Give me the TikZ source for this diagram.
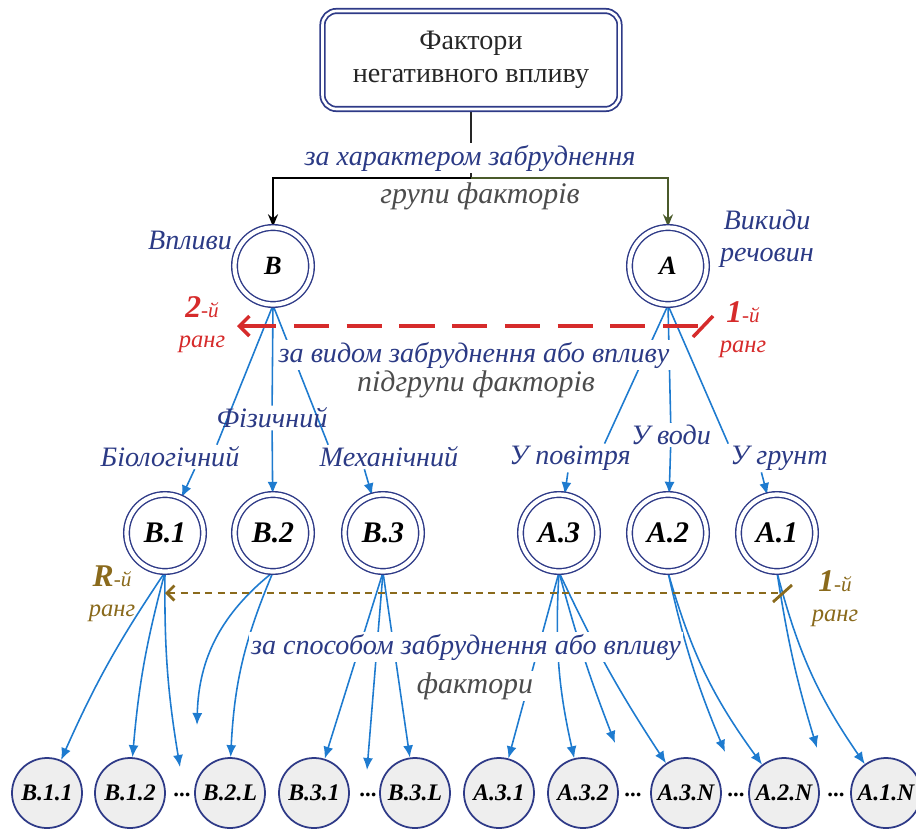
\documentclass[tikz,border=0pt]{standalone}
\usepackage{fontspec}
\setmainfont{Liberation Serif}
\usetikzlibrary{arrows.meta,positioning,calc,backgrounds}

\definecolor{navy}{HTML}{2E3A87}
\definecolor{txtblue}{HTML}{2B3A85}
\definecolor{linkblue}{HTML}{1E7BCF}
\definecolor{rankred}{HTML}{D62B2B}
\definecolor{rankolive}{HTML}{8A6A1C}
\definecolor{darkolive}{HTML}{4A5A2A}
\definecolor{nodegray}{HTML}{EEEEEE}

\begin{document}
\begin{tikzpicture}[
  group/.style={
    circle, draw=navy, double=white, double distance=2.4pt, line width=0.8pt,
    minimum size=1.54cm, inner sep=0pt,
    font=\fontsize{15}{17}\selectfont\bfseries\itshape
  },
  subgroup/.style={
    group, font=\fontsize{17}{19}\selectfont\bfseries\itshape
  },
  factor/.style={
    circle, draw=navy, fill=nodegray, line width=1pt,
    minimum size=1.4cm, inner sep=0pt,
    font=\fontsize{13.5}{15}\selectfont\bfseries\itshape
  },
  crit/.style={font=\fontsize{16}{18}\selectfont\itshape, text=txtblue, fill=white, inner sep=1pt},
  kind/.style={font=\fontsize{16}{18}\selectfont\itshape, text=txtblue, inner sep=1pt, align=center},
  level/.style={font=\fontsize{17}{19}\selectfont\itshape, text=black!70, fill=white, inner sep=1pt},
  rank/.style={font=\fontsize{14}{16}\selectfont\itshape, align=center, inner sep=0pt},
  tie/.style={draw=linkblue, line width=0.9pt},
  feed/.style={tie, -{Latex[length=2.4mm,width=2mm]}},
  dots/.style={font=\fontsize{13}{15}\selectfont\bfseries, inner sep=0pt}
]
\useasboundingbox (0,0) rectangle (18.32,-16.56);

% Root box
\node[draw=navy, double=white, double distance=1.5pt, line width=1pt, rounded corners=8pt,
  minimum width=5.94cm, minimum height=1.96cm, align=center, text=black!85,
  font=\fontsize{16}{19}\selectfont] (root) at (9.42,-1.2) {Фактори\\негативного впливу};
\coordinate (br) at (9.42,-3.56);

% Groups
\node[group] (B) at (5.46,-5.32) {B};
\node[group] (A) at (13.36,-5.32) {A};
\node[kind] (lB) at (3.8,-4.8) {Впливи};
\node[kind] (lA) at (15.34,-4.78) {Викиди\\речовин};

% Criteria and levels
\node[crit] (c1) at (9.4,-3.16) {за характером забруднення};
\node[level] (g1) at (9.6,-3.92) {групи факторів};
\node[crit] (c2) at (9.48,-7.1) {за видом забруднення або впливу};
\node[level] (g2) at (9.52,-7.68) {підгрупи факторів};
\node[crit] (c3) at (9.32,-12.94) {за способом забруднення або впливу};
\node[level] (g3) at (9.5,-13.72) {фактори};

% Kinds
\node[kind] (lPhys) at (5.44,-8.36) {Фізичний};
\node[kind] (lBio) at (3.4,-9.14) {Біологічний};
\node[kind] (lMech) at (7.78,-9.14) {Механічний};
\node[kind] (lAir) at (11.4,-9.16) {У повітря};
\node[kind] (lWater) at (13.42,-8.7) {У води};
\node[kind] (lSoil) at (15.58,-9.16) {У грунт};

% Subgroups
\node[subgroup] (B1) at (3.3,-10.66) {B.1};
\node[subgroup] (B2) at (5.46,-10.66) {B.2};
\node[subgroup] (B3) at (7.66,-10.66) {B.3};
\node[subgroup] (A3) at (11.18,-10.66) {A.3};
\node[subgroup] (A2) at (13.36,-10.66) {A.2};
\node[subgroup] (A1) at (15.54,-10.66) {A.1};

% Factors
\node[factor] (B11) at (0.94,-15.86) {B.1.1};
\node[factor] (B12) at (2.6,-15.86) {B.1.2};
\node[dots] (d1) at (3.64,-15.9) {...};
\node[factor] (B2L) at (4.6,-15.86) {B.2.L};
\node[factor] (B31) at (6.28,-15.86) {B.3.1};
\node[dots] (d2) at (7.36,-15.9) {...};
\node[factor] (B3L) at (8.3,-15.86) {B.3.L};
\node[factor] (A31) at (9.98,-15.86) {A.3.1};
\node[factor] (A32) at (11.66,-15.86) {A.3.2};
\node[dots] (d3) at (12.66,-15.9) {...};
\node[factor] (A3N) at (13.72,-15.86) {A.3.N};
\node[dots] (d4) at (14.72,-15.9) {...};
\node[factor] (A2N) at (15.68,-15.86) {A.2.N};
\node[dots] (d5) at (16.72,-15.9) {...};
\node[factor] (A1N) at (17.72,-15.86) {A.1.N};

% Open arrow ends
\coordinate (e1) at (3.6,-15.34);
\coordinate (e2) at (3.94,-14.5);
\coordinate (e3) at (7.34,-15.4);
\coordinate (e4) at (12.3,-14.86);
\coordinate (e5) at (14.5,-15.04);
\coordinate (e6) at (16.34,-14.96);

% Ranks
\coordinate (r2) at (4.74,-6.52);
\coordinate (r1) at (14.16,-6.52);
\coordinate (s2) at (3.3,-11.86);
\coordinate (sR) at (15.64,-11.86);
\node[rank, text=rankred] (rk2) at (4.04,-6.5)
  {{\fontsize{18}{18}\selectfont\bfseries 2}{\fontsize{12}{12}\selectfont -й}\\[1pt]ранг};
\node[rank, text=rankred] (rk1) at (14.86,-6.6)
  {{\fontsize{18}{18}\selectfont\bfseries 1}{\fontsize{12}{12}\selectfont -й}\\[1pt]ранг};
\node[rank, text=rankolive] (rkR) at (2.24,-11.88)
  {{\fontsize{18}{18}\selectfont\bfseries R}{\fontsize{12}{12}\selectfont -й}\\[1pt]ранг};
\node[rank, text=rankolive] (rkL) at (16.7,-11.98)
  {{\fontsize{18}{18}\selectfont\bfseries 1}{\fontsize{12}{12}\selectfont -й}\\[1pt]ранг};

\begin{scope}[on background layer]
% Root to groups
\draw[line width=0.9pt, black!85] (root) -- (br);
\draw[line width=0.9pt, -{Stealth[length=2.5mm,width=2mm]}] (br) -| (B);
\draw[line width=0.9pt, darkolive, -{Stealth[length=2.5mm,width=2mm]}] (br) -| (A);

% Groups to subgroups
\draw[tie] (B.south) -- ([xshift=-14pt]lBio.north east);
\draw[tie] (B.south) -- (lPhys);
\draw[tie] (B.south) -- ([xshift=6pt]lMech.north west);
\draw[feed] ([xshift=14pt]lBio.south) -- (B1);
\draw[feed] (lPhys) -- (B2);
\draw[feed] ([xshift=-14pt]lMech.south) -- (B3);
\draw[tie] (A.south) -- ([xshift=-16pt]lAir.north east);
\draw[tie] (A.south) -- (lWater);
\draw[tie] (A.south) -- (lSoil.north west);
\draw[feed] (lAir) -- (A3);
\draw[feed] (lWater) -- (A2);
\draw[feed] ([xshift=-10pt]lSoil.south) -- (A1);

% Subgroups to factors
\draw[feed] (B1.south) to[bend right=5] (B11);
\draw[feed] (B1.south) to[bend right=5] (B12);
\draw[feed] (B1.south) to[bend right=5] (e1);
\draw[feed] (B2.south) to[bend right=25] (e2);
\draw[feed] (B2.south) to[bend right=10] (B2L);
\draw[feed] (B3.south) -- (B31);
\draw[feed] (B3.south) -- (e3);
\draw[feed] (B3.south) -- (B3L);
\draw[feed] (A3.south) -- (A31);
\draw[feed] (A3.south) to[bend right=8] (A32);
\draw[feed] (A3.south) to[bend right=3] (e4);
\draw[feed] (A3.south) to[bend right=4] (A3N);
\draw[feed] (A2.south) to[bend right=5] (e5);
\draw[feed] (A2.south) to[bend right=10] (A2N);
\draw[feed] (A1.south) to[bend right=4] (e6);
\draw[feed] (A1.south) to[bend right=10] (A1N);
\end{scope}

% Rank lines
\draw[rankred, line width=2pt, dash pattern=on 20pt off 10pt, {Straight Barb[length=2mm,width=4mm]}-] (r2) -- (r1);
\draw[rankred, line width=2pt] ($(r1)+(0.1,0.2)$) -- ($(r1)+(-0.3,-0.22)$);
\draw[rankolive, line width=1.6pt, dash pattern=on 4pt off 3pt, {Straight Barb[length=1.5mm,width=3mm]}-] (s2) -- (sR);
\draw[rankolive, line width=1.6pt] ($(sR)+(-0.18,-0.18)$) -- ($(sR)+(0.2,0.16)$);

\end{tikzpicture}
\end{document}
